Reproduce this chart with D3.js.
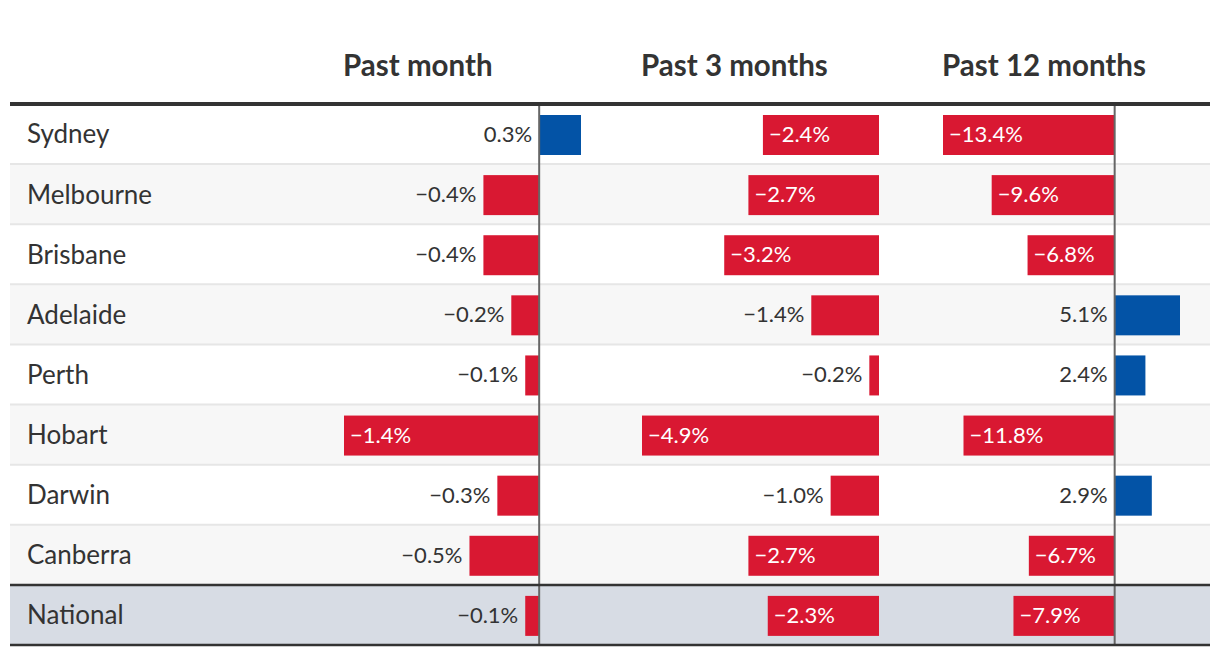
<!DOCTYPE html>
<html lang="en">
<head>
<meta charset="UTF-8">
<title>Price change by city</title>
<script src="https://d3js.org/d3.v7.min.js"></script>
<style>
  body { margin: 0; background: #fff; }
  text { font-family: Lato, "Noto Sans", sans-serif; }
</style>
</head>
<body>
<div id="chart"></div>
<script>
const cities = ["Sydney", "Melbourne", "Brisbane", "Adelaide", "Perth", "Hobart", "Darwin", "Canberra", "National"];
const headers = ["Past month", "Past 3 months", "Past 12 months"];
const pastMonth = [0.3, -0.4, -0.4, -0.2, -0.1, -1.4, -0.3, -0.5, -0.1];
const past3Months = [-2.4, -2.7, -3.2, -1.4, -0.2, -4.9, -1.0, -2.7, -2.3];
const past12Months = [-13.4, -9.6, -6.8, 5.1, 2.4, -11.8, 2.9, -6.7, -7.9];

const width = 1220, height = 656;
const left = 10, right = 1210;
const tableTop = 104, tableBottom = 645;
const colStarts = [344, 642, 943];
const barSpan = 237;
const red = "#d91832", blue = "#0353a6", ink = "#333";

const svg = d3.select("#chart").append("svg")
    .attr("width", width)
    .attr("height", height);

const y = d3.scaleBand().domain(cities).range([tableTop, tableBottom]);

// row backgrounds
svg.append("g").selectAll("rect")
    .data(cities)
    .join("rect")
    .attr("x", left)
    .attr("width", right - left)
    .attr("y", d => y(d))
    .attr("height", y.bandwidth())
    .attr("fill", (d, i) => d === "National" ? "#d7dce4" : (i % 2 ? "#f7f7f7" : "#fff"));

// light separators between rows
svg.append("g").selectAll("line")
    .data(cities.slice(1, -1))
    .join("line")
    .attr("x1", left).attr("x2", right)
    .attr("y1", d => y(d)).attr("y2", d => y(d))
    .attr("stroke", "#e6e6e6")
    .attr("stroke-width", 2);

// row labels
svg.append("g").selectAll("text")
    .data(cities)
    .join("text")
    .attr("x", 27)
    .attr("y", d => y(d) + y.bandwidth() / 2)
    .attr("dy", "0.36em")
    .attr("font-size", 26)
    .attr("fill", ink)
    .text(d => d);

const fmt = d3.format(".1f");
const columns = [pastMonth, past3Months, past12Months];

columns.forEach((values, c) => {
    const x = d3.scaleLinear()
        .domain([Math.min(0, d3.min(values)), Math.max(0, d3.max(values))])
        .range([colStarts[c], colStarts[c] + barSpan]);
    const zero = x(0);

    svg.append("text")
        .attr("x", colStarts[c] - 1)
        .attr("y", 76)
        .attr("font-size", 29.5)
        .attr("font-weight", "bold")
        .attr("fill", ink)
        .text(headers[c]);

    const g = svg.append("g").selectAll("g")
        .data(values.map((v, i) => ({ v, city: cities[i] })))
        .join("g");

    g.append("rect")
        .attr("x", d => Math.min(x(d.v), zero))
        .attr("width", d => Math.abs(x(d.v) - zero))
        .attr("y", d => y(d.city) + 11)
        .attr("height", 40)
        .attr("fill", d => d.v < 0 ? red : blue);

    g.append("text")
        .attr("y", d => y(d.city) + y.bandwidth() / 2)
        .attr("dy", "0.36em")
        .attr("font-size", 22)
        .each(function(d) {
            const w = Math.abs(x(d.v) - zero);
            const inside = d.v < 0 && w > 80;
            d3.select(this)
                .attr("x", inside ? x(d.v) + 6 : Math.min(x(d.v), zero) - 7)
                .attr("text-anchor", inside ? "start" : "end")
                .attr("fill", inside ? "#fff" : ink);
        })
        .text(d => fmt(d.v) + "%");

    // zero line only where the column has values on both sides
    if (x.domain()[0] < 0 && x.domain()[1] > 0) {
        svg.append("line")
            .attr("x1", zero).attr("x2", zero)
            .attr("y1", tableTop).attr("y2", tableBottom)
            .attr("stroke", "#666")
            .attr("stroke-width", 2);
    }
});

// header rule, national rule, bottom rule
svg.append("g").selectAll("line")
    .data([[tableTop, 4], [y("National"), 2.5], [tableBottom, 2.5]])
    .join("line")
    .attr("x1", left).attr("x2", right)
    .attr("y1", d => d[0]).attr("y2", d => d[0])
    .attr("stroke", ink)
    .attr("stroke-width", d => d[1]);
</script>
</body>
</html>
